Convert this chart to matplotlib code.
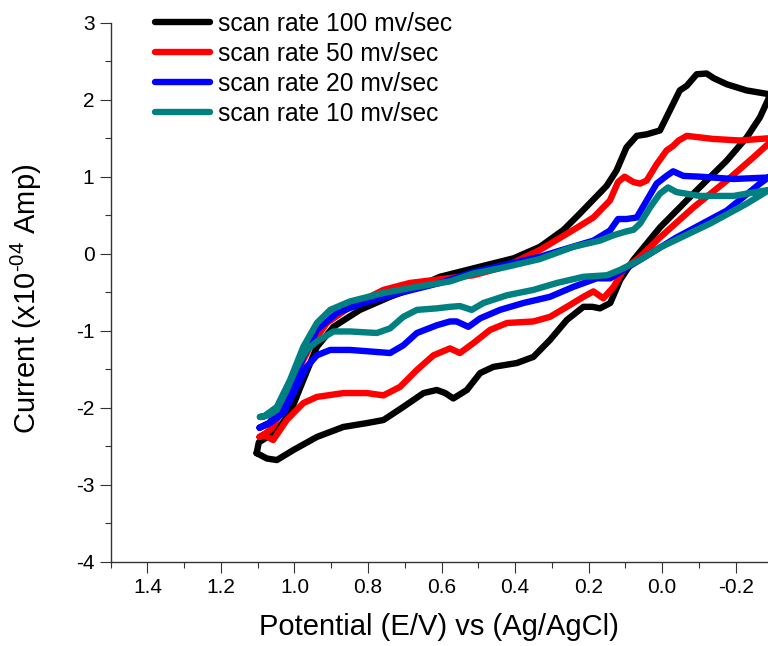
import numpy as np
from matplotlib import pyplot as plt
from matplotlib.ticker import MultipleLocator

# cyclic voltammograms, each loop: forward (cathodic) branch then return branch
potential_100 = [1.103, 1.075, 1.048, 1.003, 0.939, 0.867, 0.803, 0.758, 0.704,
                 0.649, 0.613, 0.590, 0.568, 0.531, 0.495, 0.459, 0.395, 0.350,
                 0.305, 0.259, 0.214, 0.190, 0.169, 0.141, 0.114, 0.078, 0.006,
                 -0.085, -0.176, -0.230, -0.266, -0.292,
                 -0.292, -0.230, -0.176, -0.140, -0.121, -0.094, -0.067, -0.048,
                 -0.021, 0.006, 0.042, 0.069, 0.097, 0.124, 0.151, 0.224, 0.268,
                 0.332, 0.404, 0.513, 0.604, 0.667, 0.740, 0.822, 0.894, 0.939,
                 0.976, 1.012, 1.049, 1.077, 1.097, 1.103]
current_100 = [-2.59, -2.66, -2.68, -2.55, -2.38, -2.25, -2.20, -2.16, -1.99,
               -1.81, -1.77, -1.81, -1.88, -1.77, -1.55, -1.47, -1.42, -1.34,
               -1.12, -0.86, -0.69, -0.69, -0.71, -0.64, -0.34, -0.08, 0.34,
               0.78, 1.21, 1.51, 1.77, 2.04,
               2.07, 2.12, 2.20, 2.28, 2.34, 2.33, 2.18, 2.12,
               1.86, 1.60, 1.55, 1.53, 1.38, 1.08, 0.88, 0.52, 0.31,
               0.09, -0.06, -0.19, -0.30, -0.43, -0.56, -0.73, -0.95, -1.21,
               -1.64, -2.07, -2.30, -2.39, -2.45, -2.59]

potential_50 = [1.095, 1.085, 1.058, 1.021, 0.976, 0.939, 0.867, 0.803, 0.758,
                0.713, 0.667, 0.622, 0.577, 0.550, 0.513, 0.468, 0.422, 0.350,
                0.305, 0.259, 0.214, 0.187, 0.160, 0.132, 0.105, 0.060, 0.006,
                -0.085, -0.176, -0.248, -0.292,
                -0.292, -0.212, -0.139, -0.067, -0.045, -0.030, -0.012, 0.015,
                0.042, 0.060, 0.078, 0.102, 0.120, 0.142, 0.187, 0.241, 0.332,
                0.428, 0.514, 0.686, 0.758, 0.849, 0.912, 0.958, 0.994, 1.030,
                1.060, 1.086, 1.095]
current_50 = [-2.38, -2.35, -2.42, -2.16, -1.94, -1.86, -1.81, -1.81, -1.84,
              -1.73, -1.51, -1.32, -1.23, -1.29, -1.16, -0.99, -0.90, -0.88,
              -0.82, -0.69, -0.56, -0.49, -0.58, -0.43, -0.21, -0.04, 0.21,
              0.60, 0.95, 1.25, 1.44,
              1.50, 1.47, 1.49, 1.53, 1.47, 1.40, 1.34, 1.16,
              0.95, 0.91, 0.93, 1.00, 0.93, 0.69, 0.47, 0.31, 0.05,
              -0.17, -0.28, -0.38, -0.47, -0.69, -0.90, -1.21, -1.55, -1.99,
              -2.26, -2.36, -2.38]

potential_20 = [1.095, 1.067, 1.030, 0.994, 0.967, 0.939, 0.903, 0.849, 0.794,
                0.740, 0.704, 0.667, 0.613, 0.577, 0.559, 0.527, 0.495, 0.441,
                0.377, 0.305, 0.241, 0.178, 0.141, 0.105, 0.060, -0.039,
                -0.176, -0.266, -0.292,
                -0.292, -0.194, -0.103, -0.058, -0.030, -0.012, 0.015, 0.042,
                0.069, 0.097, 0.120, 0.142, 0.187, 0.278, 0.332, 0.514, 0.604,
                0.713, 0.813, 0.885, 0.939, 0.976, 1.012, 1.040, 1.070, 1.095]
current_20 = [-2.26, -2.20, -2.07, -1.73, -1.47, -1.32, -1.25, -1.25, -1.27,
              -1.29, -1.19, -1.03, -0.93, -0.88, -0.88, -0.95, -0.84, -0.73,
              -0.64, -0.56, -0.43, -0.32, -0.32, -0.21, -0.08, 0.21,
              0.56, 0.91, 1.00,
              0.99, 0.97, 1.00, 1.01, 1.07, 1.01, 0.91, 0.69,
              0.47, 0.45, 0.45, 0.30, 0.17, 0.04, -0.04, -0.24, -0.38,
              -0.51, -0.64, -0.77, -0.99, -1.34, -1.77, -2.05, -2.20, -2.26]

potential_10 = [1.094, 1.072, 1.048, 1.021, 0.994, 0.967, 0.939, 0.894, 0.849,
                0.776, 0.740, 0.704, 0.667, 0.613, 0.577, 0.550, 0.518, 0.486,
                0.422, 0.350, 0.286, 0.214, 0.150, 0.114, 0.060, 0.006, -0.130,
                -0.230, -0.292,
                -0.292, -0.194, -0.103, -0.039, -0.016, 0.006, 0.033, 0.060,
                0.078, 0.097, 0.132, 0.169, 0.241, 0.333, 0.422, 0.514, 0.577,
                0.667, 0.758, 0.849, 0.903, 0.939, 0.976, 1.012, 1.048, 1.085,
                1.094]
current_10 = [-2.12, -2.10, -2.03, -1.77, -1.47, -1.25, -1.14, -1.01, -1.01,
              -1.03, -0.97, -0.82, -0.73, -0.71, -0.69, -0.68, -0.73, -0.64,
              -0.54, -0.47, -0.38, -0.30, -0.28, -0.21, -0.08, 0.08, 0.39,
              0.65, 0.83,
              0.83, 0.75, 0.75, 0.80, 0.86, 0.78, 0.60, 0.39,
              0.31, 0.29, 0.24, 0.17, 0.09, -0.07, -0.17, -0.26, -0.36,
              -0.43, -0.51, -0.62, -0.73, -0.90, -1.21, -1.64, -1.99, -2.12,
              -2.12]

labels = ['scan rate 100 mv/sec', 'scan rate 50 mv/sec',
          'scan rate 20 mv/sec', 'scan rate 10 mv/sec']
colors = ['black', '#ff0000', '#0000ff', '#008080']


def plot_cv(curves):
    plt.rcParams['font.family'] = ['Liberation Sans', 'DejaVu Sans']
    plt.rcParams['mathtext.fontset'] = 'custom'
    plt.rcParams['mathtext.rm'] = 'Liberation Sans'
    plt.rcParams['mathtext.default'] = 'regular'

    fig = plt.figure(figsize=(7.68, 6.46), dpi=100)
    ax = fig.add_axes([0.1441, 0.1305, 0.8559, 0.8344])
    for (x, y), label, c in zip(curves, labels, colors):
        ax.plot(np.array(x), np.array(y), '-', c=c, lw=4.6, label=label,
                solid_joinstyle='round', solid_capstyle='round')

    ax.set_xlim(1.5, -0.288)
    ax.set_ylim(-4, 3)
    ax.xaxis.set_major_locator(MultipleLocator(0.2))
    ax.xaxis.set_minor_locator(MultipleLocator(0.1))
    ax.yaxis.set_major_locator(MultipleLocator(1))
    ax.yaxis.set_minor_locator(MultipleLocator(0.5))
    ax.xaxis.set_major_formatter(plt.FuncFormatter(lambda v, p: f'{v:.1f}'))
    ax.yaxis.set_major_formatter(plt.FuncFormatter(lambda v, p: f'{v:.0f}'))

    for side in ['top', 'right']:
        ax.spines[side].set_visible(False)
    for side in ['left', 'bottom']:
        ax.spines[side].set_color('#333333')
        ax.spines[side].set_linewidth(1.0)
    ax.tick_params(which='major', direction='out', length=7.7, width=0.8,
                   color='#333333', labelsize=15, pad=4)
    ax.tick_params(which='minor', direction='out', length=4, width=0.8,
                   color='#333333')

    ax.set_xlabel('Potential (E/V) vs (Ag/AgCl)', fontsize=21)
    # hyphen (U+2010) in the exponent, mathtext would turn '-' into a minus
    ax.set_ylabel('Current (x10$^{\u201004}$ Amp)', fontsize=21)
    ax.xaxis.set_label_coords(0.5, -0.095)
    ax.yaxis.set_label_coords(-0.1015, 0.487)

    ax.legend(loc='upper left', bbox_to_anchor=(155 / 768, 1 - 12 / 646),
              bbox_transform=fig.transFigure, frameon=False, fontsize=17.7,
              borderpad=0, borderaxespad=0, handlelength=2.24,
              handletextpad=0.33, labelspacing=0.24)
    fig.savefig('out.png', dpi=100)


def main():
    curves = [(potential_100, current_100), (potential_50, current_50),
              (potential_20, current_20), (potential_10, current_10)]
    plot_cv(curves)


if __name__ == "__main__":
    main()
